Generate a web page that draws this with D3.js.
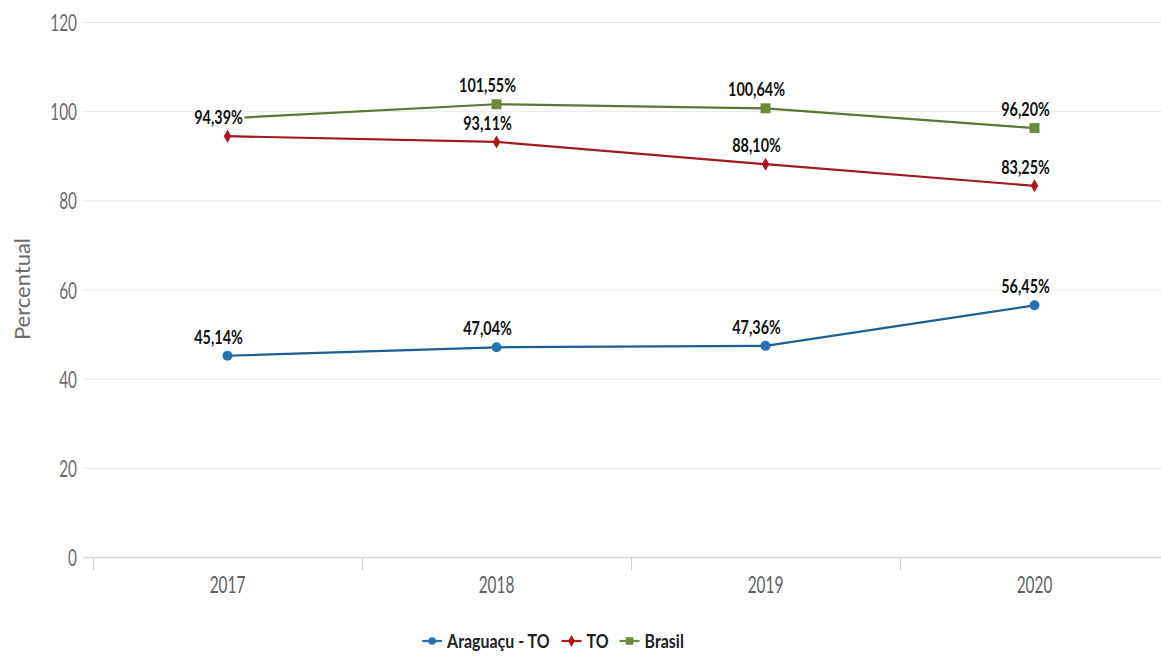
<!DOCTYPE html>
<html><head><meta charset="utf-8">
<script src="https://cdn.jsdelivr.net/npm/d3@7"></script>
<style>body{margin:0;background:#fff} svg{display:block}</style>
</head><body><svg id="chart" width="1161" height="657"></svg>
<script>
// Percentual por ano: Araguaçu - TO, TO e Brasil
const years = ["2017", "2018", "2019", "2020"];
const araguacu = [45.14, 47.04, 47.36, 56.45];
const tocantins = [94.39, 93.11, 88.10, 83.25];
const brasil = [98.4, 101.55, 100.64, 96.20];
const yTicks = [0, 20, 40, 60, 80, 100, 120];
const seriesNames = ["Araguaçu - TO", "TO", "Brasil"];
const seriesColors = ["#2573b4", "#b5141c", "#6b8a3b"];
const lineColors = ["#1d5e93", "#9e1a20", "#5b7636"];
const markerShapes = ["circle", "diamond", "square"];

const series = [araguacu, tocantins, brasil].map((values, i) => ({
  name: seriesNames[i], color: seriesColors[i], line: lineColors[i],
  shape: markerShapes[i], values
}));

const svg = d3.select("#chart");
const W = 1161;
const FONT = "Lato, 'Open Sans', sans-serif";

const x = d3.scaleBand().domain(years).range([93, 1169]);
const y = d3.scaleLinear().domain([0, 120]).range([557, 22]);
const cx = d => x(d) + x.bandwidth() / 2;

// Text helper: narrow rendering via horizontal scale
function label(parent, tx, ty, str, opts) {
  const g = parent.append("g")
    .attr("transform", `translate(${tx},${ty}) scale(${opts.sx || 1},1)`);
  const t = g.append("text")
    .attr("font-family", FONT)
    .attr("font-size", opts.size)
    .attr("font-weight", opts.weight || "normal")
    .attr("fill", opts.fill || "#666")
    .attr("text-anchor", opts.anchor || "start")
    .text(str);
  return { g, t };
}

// Grid lines
svg.append("g").selectAll("line").data(yTicks).join("line")
  .attr("x1", 83).attr("x2", W)
  .attr("y1", d => y(d) + 0.5).attr("y2", d => y(d) + 0.5)
  .attr("stroke", d => d === 0 ? "#d6d6d6" : "#e8e8e8")
  .attr("stroke-width", d => d === 0 ? 1.5 : 1);

// Y tick labels
yTicks.forEach(v => label(svg, 77, y(v) + 9, String(v),
  { size: 24, sx: 0.64, anchor: "end", fill: "#6b6b6b" }));

// X ticks at band edges
const edges = years.map(d => x(d)).concat([x.range()[1]]);
svg.append("g").selectAll("line").data(edges).join("line")
  .attr("x1", d => d + 0.5).attr("x2", d => d + 0.5)
  .attr("y1", 558).attr("y2", 570)
  .attr("stroke", "#d0d0d0").attr("stroke-width", 1);

// X labels
years.forEach(d => label(svg, cx(d), 593, d,
  { size: 24, sx: 0.64, anchor: "middle", fill: "#5e5e5e" }));

// Axis title
svg.append("g").attr("transform", "translate(30,289) rotate(-90)")
  .append("text").attr("font-family", FONT).attr("font-size", 22)
  .attr("fill", "#6b6b6b").attr("text-anchor", "middle")
  .text("Percentual");

// Markers
function marker(sel, shape, size) {
  if (shape === "circle") return sel.append("circle").attr("r", size);
  const sym = shape === "diamond" ? d3.symbolDiamond : d3.symbolSquare;
  const area = shape === "diamond" ? size * size * 2.3 : size * size * 4;
  return sel.append("path").attr("d", d3.symbol().type(sym).size(area)());
}

const lineGen = d3.line().x((v, i) => cx(years[i])).y(v => y(v));

series.forEach(s => {
  svg.append("path").attr("d", lineGen(s.values))
    .attr("fill", "none").attr("stroke", s.line).attr("stroke-width", 2.2);
  s.values.forEach((v, i) => {
    const g = svg.append("g").attr("transform", `translate(${cx(years[i])},${y(v)})`);
    marker(g, s.shape, s.shape === "circle" ? 5 : s.shape === "diamond" ? 4.6 : 5)
      .attr("fill", s.color);
  });
});

// Data labels (hidden where they collide with an earlier one)
const placed = [];
const fmt = v => v.toFixed(2).replace(".", ",") + "%";
series.forEach(s => {
  s.values.forEach((v, i) => {
    const px = cx(years[i]) - 9, py = y(v) - 12;
    const sx = 0.8;
    const { g, t } = label(svg, px, py, fmt(v),
      { size: 18, sx, anchor: "middle", weight: "bold", fill: "#111" });
    const b = t.node().getBBox();
    const box = { x0: px + b.x * sx - 5, x1: px + (b.x + b.width) * sx + 5,
                  y0: py + b.y - 5, y1: py + b.y + b.height + 5 };
    const hit = placed.some(p => !(box.x1 < p.x0 || box.x0 > p.x1 || box.y1 < p.y0 || box.y0 > p.y1));
    if (hit) { g.remove(); return; }
    placed.push(box);
    g.insert("rect", "text")
      .attr("x", b.x).attr("y", b.y + 2).attr("width", b.width + 2).attr("height", b.height - 4)
      .attr("fill", "#fff");
  });
});

// Legend
const legend = svg.append("g");
let lx = 0;
series.forEach(s => {
  const item = legend.append("g").attr("transform", `translate(${lx},0)`);
  item.append("line").attr("x1", 0).attr("x2", 20).attr("y1", 0).attr("y2", 0)
    .attr("stroke", s.color).attr("stroke-width", 2.2);
  const m = item.append("g").attr("transform", "translate(10,0)");
  marker(m, s.shape, s.shape === "circle" ? 3.8 : s.shape === "diamond" ? 4.2 : 3.8).attr("fill", s.color);
  const sx = 0.84;
  const { t } = label(item, 25, 7, s.name,
    { size: 19, sx, weight: "bold", fill: "#222" });
  const w = t.node().getBBox().width * sx;
  lx += 25 + w + 11;
});
const lw = lx - 11;
legend.attr("transform", `translate(${553 - lw / 2},641)`);
</script></body></html>
